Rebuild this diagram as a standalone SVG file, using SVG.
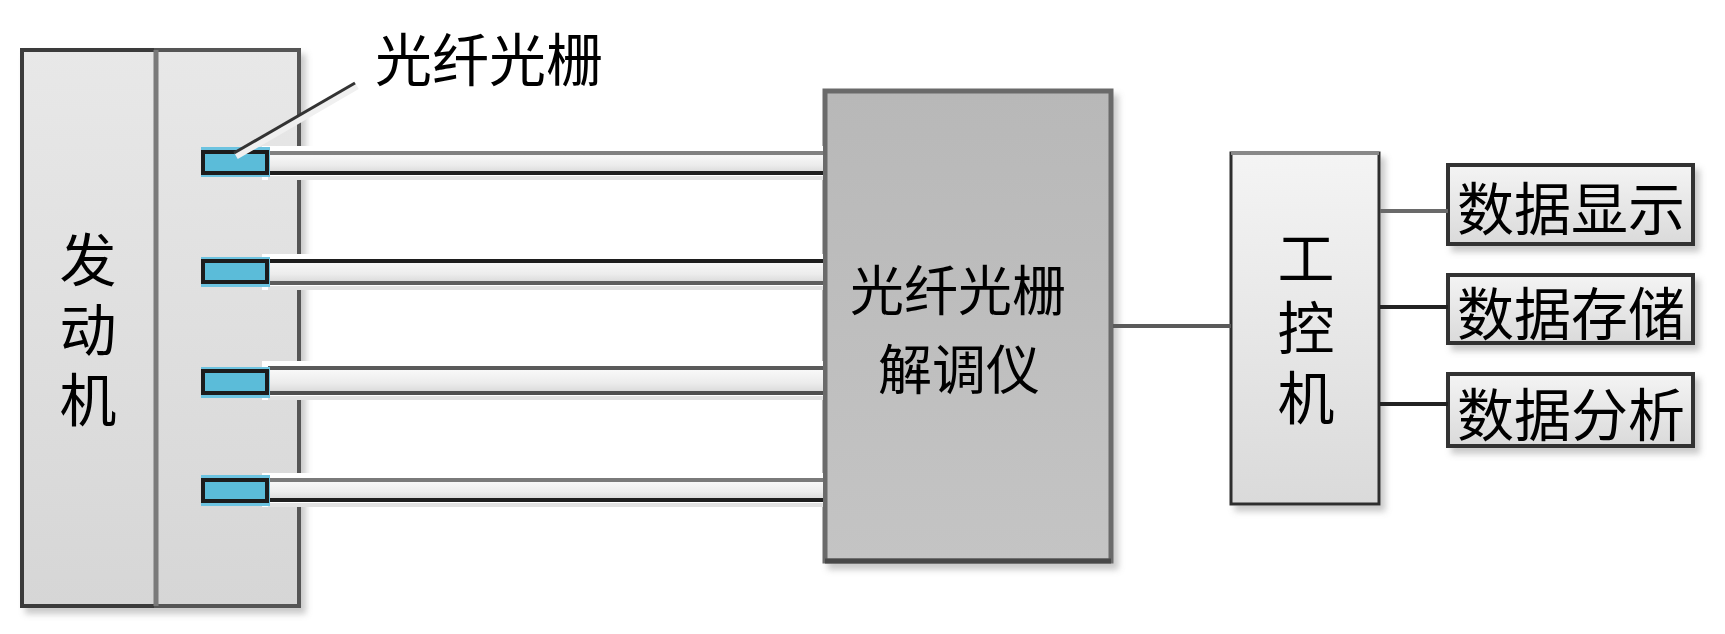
<svg xmlns="http://www.w3.org/2000/svg" width="1725" height="634" viewBox="0 0 1725 634">
<defs>
  <linearGradient id="gLight" x1="0" y1="0" x2="0" y2="1">
    <stop offset="0" stop-color="#f4f4f4"/>
    <stop offset="1" stop-color="#dadada"/>
  </linearGradient>
  <linearGradient id="gEngine" x1="0" y1="0" x2="0" y2="1">
    <stop offset="0" stop-color="#e8e8e8"/>
    <stop offset="1" stop-color="#d6d6d6"/>
  </linearGradient>
  <linearGradient id="gDemod" x1="0" y1="0" x2="0" y2="1">
    <stop offset="0" stop-color="#b8b8b8"/>
    <stop offset="1" stop-color="#c4c4c4"/>
  </linearGradient>
  <linearGradient id="gFiber" x1="0" y1="0" x2="0" y2="1">
    <stop offset="0" stop-color="#fafafa"/>
    <stop offset="0.6" stop-color="#ececec"/>
    <stop offset="1" stop-color="#d8d8d8"/>
  </linearGradient>
  <filter id="shadow" x="-10%" y="-10%" width="130%" height="130%">
    <feDropShadow dx="5" dy="6" stdDeviation="3" flood-color="#8a8a8a" flood-opacity="0.45"/>
  </filter>
</defs>
<style>
  text { font-family: "Noto Sans CJK SC", "Noto Sans CJK JP", sans-serif; fill: #000; text-anchor: middle; dominant-baseline: central; }
  .big { font-size: 57px; }
  .mid { font-size: 54px; }
  .vert { writing-mode: vertical-rl; letter-spacing: 13px; }
  .sensor-halo { fill: #6cc3e0; }
  .sensor-core { fill: #5bbcd9; stroke: #1c1c1c; stroke-width: 4; }
  .fiber { fill: url(#gFiber); }
  .fiber-halo { fill: #ffffff; }
  .line { fill: none; stroke-width: 4; }
</style>

<g id="engine" filter="url(#shadow)">
  <rect x="22" y="50" width="134" height="556" fill="url(#gEngine)" stroke="#3a3a3a" stroke-width="4"/>
  <rect x="156" y="50" width="143" height="556" fill="url(#gEngine)" stroke="#555" stroke-width="4"/>
  <line x1="156" y1="50" x2="156" y2="606" stroke="#7a7a7a" stroke-width="5"/>
  <text class="big vert" x="88" y="336">发动机</text>
</g>

<g id="fiber-label">
  <text class="big" x="489" y="56">光纤光栅</text>
</g>

<g id="demodulator" filter="url(#shadow)">
  <rect x="825" y="91" width="286" height="470" fill="url(#gDemod)" stroke="#6a6a6a" stroke-width="5"/>
  <line x1="825" y1="561" x2="1111" y2="561" stroke="#4a4a4a" stroke-width="5"/>
  <text class="mid" x="958" y="287">光纤光栅</text>
  <text class="mid" x="959" y="366">解调仪</text>
</g>

<g id="ipc" filter="url(#shadow)">
  <rect x="1231" y="153" width="148" height="351" fill="url(#gLight)" stroke="#2e2e2e" stroke-width="3"/>
  <line x1="1231" y1="153" x2="1379" y2="153" stroke="#888" stroke-width="4"/>
  <text class="big vert" x="1306" y="334">工控机</text>
</g>

<g id="display" filter="url(#shadow)">
  <rect x="1448" y="165" width="245" height="79" fill="url(#gLight)" stroke="#333" stroke-width="4"/>
  <text class="big" x="1571" y="205">数据显示</text>
</g>
<g id="storage" filter="url(#shadow)">
  <rect x="1448" y="275" width="245" height="68" fill="url(#gLight)" stroke="#333" stroke-width="4"/>
  <text class="big" x="1571" y="310">数据存储</text>
</g>
<g id="analysis" filter="url(#shadow)">
  <rect x="1448" y="374" width="245" height="72" fill="url(#gLight)" stroke="#333" stroke-width="4"/>
  <text class="big" x="1571" y="411">数据分析</text>
</g>

<g id="connectors">
  <g id="fiber1">
    <rect class="fiber-halo" x="262" y="146" width="561" height="34"/>
    <rect class="fiber" x="268" y="153" width="555" height="20"/>
    <line class="line" x1="268" y1="153" x2="823" y2="153" stroke="#808080"/>
    <line class="line" x1="268" y1="173" x2="823" y2="173" stroke="#1e1e1e"/>
    <rect x="268" y="176" width="555" height="4" fill="#e2e2e2"/>
  </g>
  <g id="fiber2">
    <rect class="fiber-halo" x="262" y="254" width="561" height="36"/>
    <rect class="fiber" x="268" y="261" width="555" height="22"/>
    <line class="line" x1="268" y1="261" x2="823" y2="261" stroke="#1e1e1e"/>
    <line class="line" x1="268" y1="283" x2="823" y2="283" stroke="#5e5e5e"/>
    <rect x="268" y="286" width="555" height="4" fill="#e2e2e2"/>
  </g>
  <g id="fiber3">
    <rect class="fiber-halo" x="262" y="361" width="561" height="39"/>
    <rect class="fiber" x="268" y="368" width="555" height="25"/>
    <line class="line" x1="268" y1="368" x2="823" y2="368" stroke="#5a5a5a"/>
    <line class="line" x1="268" y1="393" x2="823" y2="393" stroke="#505050"/>
    <rect x="268" y="396" width="555" height="4" fill="#e2e2e2"/>
  </g>
  <g id="fiber4">
    <rect class="fiber-halo" x="262" y="473" width="561" height="34"/>
    <rect class="fiber" x="268" y="480" width="555" height="20"/>
    <line class="line" x1="268" y1="480" x2="823" y2="480" stroke="#7a7a7a"/>
    <line class="line" x1="268" y1="500" x2="823" y2="500" stroke="#1e1e1e"/>
    <rect x="268" y="503" width="555" height="4" fill="#e2e2e2"/>
  </g>
  <g id="grating1">
    <rect class="sensor-halo" x="201" y="147" width="69" height="30"/>
    <rect class="sensor-core" x="203" y="152" width="64" height="21"/>
  </g>
  <g id="grating2">
    <rect class="sensor-halo" x="201" y="257" width="69" height="30"/>
    <rect class="sensor-core" x="203" y="261" width="64" height="21"/>
  </g>
  <g id="grating3">
    <rect class="sensor-halo" x="201" y="367" width="69" height="31"/>
    <rect class="sensor-core" x="203" y="371" width="64" height="22"/>
  </g>
  <g id="grating4">
    <rect class="sensor-halo" x="201" y="475" width="69" height="31"/>
    <rect class="sensor-core" x="203" y="480" width="64" height="21"/>
  </g>
  <line x1="357" y1="86" x2="236" y2="156" stroke="#f0f0f0" stroke-width="7"/>
  <line x1="355" y1="83" x2="234" y2="153" stroke="#333" stroke-width="3"/>
  <line class="line" x1="1113" y1="326" x2="1231" y2="326" stroke="#5a5a5a" stroke-width="3"/>
  <line class="line" x1="1380" y1="211" x2="1448" y2="211" stroke="#6a6a6a" stroke-width="4"/>
  <line class="line" x1="1380" y1="307" x2="1448" y2="307" stroke="#222" stroke-width="4"/>
  <line class="line" x1="1380" y1="404" x2="1448" y2="404" stroke="#222" stroke-width="4"/>
</g>
</svg>
